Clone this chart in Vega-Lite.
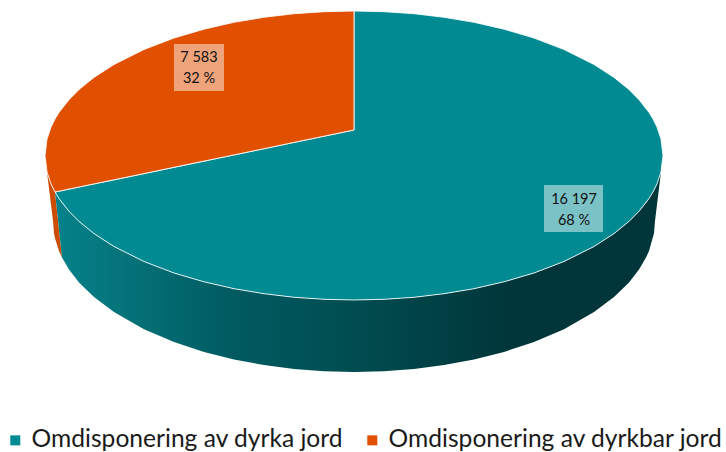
{
"$schema":"https://vega.github.io/schema/vega-lite/v6.json",
"width":726,"height":452,"padding":0,"autosize":{"type":"none"},
"background":"white",
"config":{"view":{"stroke":null},"font":"Lato"},
"datasets":{
"wallTeal":[
{"x":55,"a":192,"b":192},{"x":59,"a":198.5,"b":229.7},{"x":62,"a":202.8,"b":257.6},{"x":69,"a":211.3,"b":269.6},{"x":79,"a":221.4,"b":282.4},{"x":94,"a":233.6,"b":297.1},{"x":114,"a":246.5,"b":312.1},{"x":144,"a":261.5,"b":329.2},{"x":174,"a":273,"b":342},{"x":204,"a":281.8,"b":351.9},{"x":234,"a":288.7,"b":359.5},{"x":264,"a":293.7,"b":365.1},{"x":294,"a":297.3,"b":369},{"x":324,"a":299.3,"b":371.2},{"x":354,"a":300,"b":372},{"x":384,"a":299.3,"b":371.2},{"x":414,"a":297.3,"b":369},{"x":444,"a":293.7,"b":365.1},{"x":474,"a":288.7,"b":359.5},{"x":504,"a":281.8,"b":351.9},{"x":534,"a":273,"b":342},{"x":564,"a":261.5,"b":329.2},{"x":594,"a":246.5,"b":312.1},{"x":614,"a":233.6,"b":297.1},{"x":629,"a":221.4,"b":282.4},{"x":639,"a":211.3,"b":269.6},{"x":646,"a":202.8,"b":257.6},{"x":649,"a":198.5,"b":251},{"x":654,"a":190.1,"b":233.3},{"x":655,"a":188.2,"b":221},{"x":661,"a":171.9,"b":171.9}
],
"wallOrange":[
{"x":47,"a":171.9,"b":171.9},{"x":51,"a":183.9,"b":204.7},{"x":53,"a":188.2,"b":221},{"x":54,"a":190.1,"b":233.3},{"x":55,"a":192,"b":238.3},{"x":59,"a":229.7,"b":251},{"x":62,"a":257.6,"b":257.6}
],
"top":[
{"series":"Omdisponering av dyrka jord","x":55,"a":192,"b":192},
{"series":"Omdisponering av dyrka jord","x":59,"a":191.2,"b":198.5},
{"series":"Omdisponering av dyrka jord","x":69,"a":189.1,"b":211.3},
{"series":"Omdisponering av dyrka jord","x":79,"a":187,"b":221.4},
{"series":"Omdisponering av dyrka jord","x":94,"a":183.9,"b":233.6},
{"series":"Omdisponering av dyrka jord","x":114,"a":179.8,"b":246.5},
{"series":"Omdisponering av dyrka jord","x":144,"a":173.6,"b":261.5},
{"series":"Omdisponering av dyrka jord","x":174,"a":167.3,"b":273},
{"series":"Omdisponering av dyrka jord","x":204,"a":161.1,"b":281.8},
{"series":"Omdisponering av dyrka jord","x":234,"a":154.9,"b":288.7},
{"series":"Omdisponering av dyrka jord","x":264,"a":148.7,"b":293.7},
{"series":"Omdisponering av dyrka jord","x":294,"a":142.4,"b":297.3},
{"series":"Omdisponering av dyrka jord","x":324,"a":136.2,"b":299.3},
{"series":"Omdisponering av dyrka jord","x":354,"a":130,"b":300},
{"series":"Omdisponering av dyrka jord","x":354,"a":11,"b":300},
{"series":"Omdisponering av dyrka jord","x":384,"a":11.7,"b":299.3},
{"series":"Omdisponering av dyrka jord","x":414,"a":13.7,"b":297.3},
{"series":"Omdisponering av dyrka jord","x":444,"a":17.3,"b":293.7},
{"series":"Omdisponering av dyrka jord","x":474,"a":22.3,"b":288.7},
{"series":"Omdisponering av dyrka jord","x":504,"a":29.2,"b":281.8},
{"series":"Omdisponering av dyrka jord","x":534,"a":38,"b":273},
{"series":"Omdisponering av dyrka jord","x":564,"a":49.5,"b":261.5},
{"series":"Omdisponering av dyrka jord","x":594,"a":64.5,"b":246.5},
{"series":"Omdisponering av dyrka jord","x":614,"a":77.4,"b":233.6},
{"series":"Omdisponering av dyrka jord","x":629,"a":89.6,"b":221.4},
{"series":"Omdisponering av dyrka jord","x":639,"a":99.7,"b":211.3},
{"series":"Omdisponering av dyrka jord","x":649,"a":112.5,"b":198.5},
{"series":"Omdisponering av dyrka jord","x":653,"a":119,"b":192},
{"series":"Omdisponering av dyrka jord","x":657,"a":127.1,"b":183.9},
{"series":"Omdisponering av dyrka jord","x":661,"a":139.1,"b":171.9},
{"series":"Omdisponering av dyrka jord","x":663,"a":155.5,"b":155.5},
{"series":"Omdisponering av dyrkbar jord","x":45,"a":155.5,"b":155.5},
{"series":"Omdisponering av dyrkbar jord","x":47,"a":139.1,"b":171.9},
{"series":"Omdisponering av dyrkbar jord","x":51,"a":127.1,"b":183.9},
{"series":"Omdisponering av dyrkbar jord","x":55,"a":119,"b":192},
{"series":"Omdisponering av dyrkbar jord","x":59,"a":112.5,"b":191.2},
{"series":"Omdisponering av dyrkbar jord","x":69,"a":99.7,"b":189.1},
{"series":"Omdisponering av dyrkbar jord","x":79,"a":89.6,"b":187},
{"series":"Omdisponering av dyrkbar jord","x":94,"a":77.4,"b":183.9},
{"series":"Omdisponering av dyrkbar jord","x":114,"a":64.5,"b":179.8},
{"series":"Omdisponering av dyrkbar jord","x":144,"a":49.5,"b":173.6},
{"series":"Omdisponering av dyrkbar jord","x":174,"a":38,"b":167.3},
{"series":"Omdisponering av dyrkbar jord","x":204,"a":29.2,"b":161.1},
{"series":"Omdisponering av dyrkbar jord","x":234,"a":22.3,"b":154.9},
{"series":"Omdisponering av dyrkbar jord","x":264,"a":17.3,"b":148.7},
{"series":"Omdisponering av dyrkbar jord","x":294,"a":13.7,"b":142.4},
{"series":"Omdisponering av dyrkbar jord","x":324,"a":11.7,"b":136.2},
{"series":"Omdisponering av dyrkbar jord","x":354,"a":11,"b":130}
],
"boxes":[{"l":544,"r":603,"a":185,"b":232},{"l":174,"r":224,"a":44,"b":91}],
"labels":[{"t":"16 197","x":574,"y":200},{"t":"68 %","x":574,"y":221},{"t":"7 583","x":199,"y":58},{"t":"32 %","x":199,"y":79}]
},
"layer":[
{"data":{"name":"wallOrange"},"mark":{"type":"area","fill":"#cc4d02"},
 "encoding":{"x":{"field":"x","type":"quantitative","scale":{"domain":[0,726],"nice":false,"zero":false},"axis":null},
 "y":{"field":"a","type":"quantitative","scale":{"domain":[452,0],"nice":false,"zero":false},"axis":null},"y2":{"field":"b"}}},
{"data":{"name":"wallTeal"},"mark":{"type":"area","fill":{"gradient":"linear","x1":0,"y1":0,"x2":1,"y2":0,"stops":[{"offset":0,"color":"#04828a"},{"offset":0.1,"color":"#05747b"},{"offset":0.3,"color":"#005a60"},{"offset":0.5,"color":"#004c50"},{"offset":0.75,"color":"#00363a"},{"offset":1,"color":"#00363a"}]}},
 "encoding":{"x":{"field":"x","type":"quantitative","axis":null},
 "y":{"field":"a","type":"quantitative","axis":null},"y2":{"field":"b"}}},
{"data":{"name":"top"},"mark":{"type":"area","stroke":"#ffffff","strokeWidth":1,"strokeOpacity":0.85},
 "encoding":{"x":{"field":"x","type":"quantitative","axis":null},
 "y":{"field":"a","type":"quantitative","axis":null},"y2":{"field":"b"},
 "color":{"field":"series","type":"nominal","scale":{"domain":["Omdisponering av dyrka jord","Omdisponering av dyrkbar jord"],"range":["#028a92","#e05000"]},
 "legend":{"title":null,"orient":"none","legendX":3,"legendY":428,"direction":"horizontal","columns":2,"columnPadding":16,"symbolType":"square","symbolSize":100,"symbolStrokeWidth":0,"labelFont":"Lato","labelFontSize":24.6,"labelColor":"#1a1a1a","labelLimit":400,"labelOffset":4,"padding":0}}}},
{"data":{"name":"boxes"},"mark":{"type":"rect","fill":"#ffffff","fillOpacity":0.48},
 "encoding":{"x":{"field":"l","type":"quantitative","axis":null},"x2":{"field":"r"},"y":{"field":"a","type":"quantitative","axis":null},"y2":{"field":"b"}}},
{"data":{"name":"labels"},"mark":{"type":"text","font":"Lato","fontSize":14.5,"color":"#111111","align":"center","baseline":"middle"},
 "encoding":{"x":{"field":"x","type":"quantitative","axis":null},"y":{"field":"y","type":"quantitative","axis":null},"text":{"field":"t","type":"nominal"}}}
]
}
